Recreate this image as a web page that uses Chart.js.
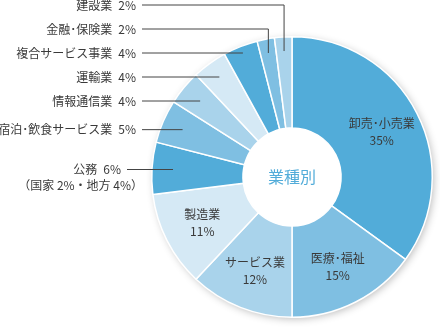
<!DOCTYPE html>
<html lang="ja">
<head>
  <meta charset="UTF-8" />
  <title>業種別</title>
  <script src="https://cdn.jsdelivr.net/npm/chart.js"></script>
  <style>
    html, body { margin: 0; padding: 0; background: #fff; }
    #wrap { width: 440px; height: 330px; }
  </style>
</head>
<body>
  <div id="wrap"><canvas id="industryChart" width="440" height="330"></canvas></div>

  <script>
    // data
    const categories = ["卸売･小売業", "医療･福祉", "サービス業", "製造業", "公務",
      "宿泊･飲食サービス業", "情報通信業", "運輸業", "複合サービス事業", "金融･保険業", "建設業"];
    const shares = [35, 15, 12, 11, 6, 5, 4, 4, 4, 2, 2];
    const notes = ["", "", "", "", "（国家 2%・地方 4%）", "", "", "", "", "", ""];
    const centerTitle = "業種別";

    const blues = ["#52acd9", "#7fbfe2", "#a9d3eb", "#d5e9f5"];
    const sliceColors = shares.map((v, i) => blues[i % 4]);

    const FONT = "'Noto Sans CJK JP', 'Noto Sans', sans-serif";
    const TEXT = "#3a3a3a";

    // soft shadow behind the ring
    const ringShadow = {
      id: "ringShadow",
      beforeDatasetsDraw(chart) {
        const a = chart.getDatasetMeta(0).data[0];
        const ctx = chart.ctx;
        ctx.save();
        ctx.shadowColor = "rgba(0,0,0,0.3)";
        ctx.shadowBlur = 9;
        ctx.shadowOffsetX = 2;
        ctx.shadowOffsetY = 2;
        ctx.fillStyle = "#fff";
        ctx.beginPath();
        ctx.arc(a.x, a.y, a.outerRadius - 1, 0, Math.PI * 2);
        ctx.fill();
        ctx.restore();
      }
    };

    // inside labels, callouts on the left and the centre title
    const sliceLabels = {
      id: "sliceLabels",
      afterDatasetsDraw(chart) {
        const ctx = chart.ctx;
        const arcs = chart.getDatasetMeta(0).data;
        const cx = arcs[0].x, cy = arcs[0].y;
        const rOut = arcs[0].outerRadius, rIn = arcs[0].innerRadius;
        ctx.save();
        ctx.textBaseline = "middle";

        // centre title
        ctx.font = "16px " + FONT;
        ctx.fillStyle = "#52acd9";
        ctx.textAlign = "center";
        ctx.fillText(centerTitle, cx, cy);

        ctx.font = "12px " + FONT;
        ctx.fillStyle = TEXT;

        // big slices: label inside
        for (let i = 0; i < 4; i++) {
          const a = arcs[i];
          const mid = (a.startAngle + a.endAngle) / 2;
          const r = (rIn + rOut) / 2 + 6;
          const x = cx + Math.cos(mid) * r;
          const y = cy + Math.sin(mid) * r;
          ctx.textAlign = "center";
          ctx.fillText(categories[i], x, y - 8);
          ctx.fillText(shares[i] + "%", x, y + 9);
        }

        // small slices: callouts stacked up the left side
        const textRight = 136;
        let prevY = Infinity;
        ctx.strokeStyle = "#444";
        ctx.lineWidth = 1;
        for (let i = 4; i < shares.length; i++) {
          const a = arcs[i];
          const mid = (a.startAngle + a.endAngle) / 2;
          const anchorY = cy + Math.sin(mid) * rOut * 0.85;
          const y = Math.min(anchorY, prevY - 24);
          prevY = y;

          const pct = shares[i] + "%";
          let right = notes[i] ? textRight - 15 : textRight;
          ctx.textAlign = "right";
          ctx.fillText(pct, right, y);
          const pw = ctx.measureText(pct).width;
          ctx.fillText(categories[i], right - pw - 6, y);
          if (notes[i]) {
            ctx.fillText(notes[i], textRight + 7, y + 16);
          }

          // where the horizontal line meets the slice's mid ray
          let r = (y - cy) / Math.sin(mid);
          const rMax = rOut * 0.98, rMin = rIn + 10;
          let ex, ey;
          ctx.beginPath();
          ctx.moveTo(right + 6, y);
          if (r >= rMin && r <= rMax) {
            ex = cx + Math.cos(mid) * r;
            ctx.lineTo(ex, y);
          } else {
            r = r > rMax ? rOut * 0.9 : rMin;
            ex = cx + Math.cos(mid) * r;
            ey = cy + Math.sin(mid) * r;
            ctx.lineTo(ex, y);
            ctx.lineTo(ex, ey);
          }
          ctx.stroke();
        }
        ctx.restore();
      }
    };

    function drawChart() {
      const ctx = document.getElementById("industryChart").getContext("2d");
      new Chart(ctx, {
        type: "doughnut",
        data: {
          labels: categories,
          datasets: [{
            data: shares,
            backgroundColor: sliceColors,
            borderColor: "#ffffff",
            borderWidth: 1.5,
            hoverOffset: 0
          }]
        },
        options: {
          responsive: false,
          animation: false,
          cutout: "35%",
          layout: { padding: { left: 151, right: 7, top: 36, bottom: 12 } },
          plugins: {
            legend: { display: false },
            tooltip: { enabled: false }
          }
        },
        plugins: [ringShadow, sliceLabels]
      });
    }

    drawChart();
  </script>
</body>
</html>
